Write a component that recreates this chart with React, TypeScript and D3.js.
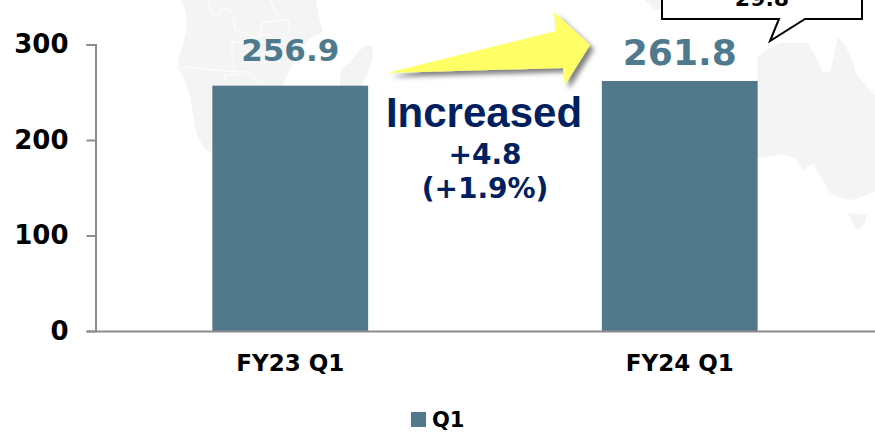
import React, { useEffect, useRef } from "react"
import * as d3 from "d3"

const categories = ["FY23 Q1", "FY24 Q1"]
const values = [256.9, 261.8]
const yTicks = [0, 100, 200, 300]
const seriesName = "Q1"
const changeLines = ["+4.8", "(+1.9%)"]

const width = 875
const height = 432
const axisLeft = 95.5
const axisBottom = 331
const axisTop = 44.5

const barColor = "#52798b"
const labelColor = "#4f7a8e"
const navy = "#002060"
const axisColor = "#8c8c8c"
const mapColor = "#f4f4f4"
const verdana = "'DejaVu Sans', sans-serif"

// faint world map behind the chart
const mapShapes = [
  "M181,0 L186,12 L187,26 L183,45 L178,60 L178,68 L184,78 L190,95 L193,115 L197,135 L205,150 L240,160 L280,90 L295,60 L310,38 L323,32 L319,18 L316,0 Z",
  "M340,86 L341,70 L350,62 L360,50 L366,45 L372,45 L373,58 L368,72 L362,86 Z",
  "M757,57 L770,48 L780,43 L807,43 L815,55 L823,73 L830,72 L833,60 L838,37 L845,45 L852,60 L857,75 L868,88 L875,95 L875,192 L853,200 L842,198 L830,193 L825,183 L818,173 L814,163 L803,170 L795,158 L783,154 L757,158 Z",
  "M848,213 L867,215 L865,223 L858,230 L853,223 Z",
  "M645,0 L690,0 L668,8 L655,10 Z",
]
const mapBorders = [
  "M178,68 L190,67 L215,70 L238,72 L245,71 L255,79 L262,85",
  "M225,80 L224,76 L238,74 L244,73",
  "M208,0 L212,13 L220,15 L221,9 L230,9 L234,20 L235,30 L243,32 L255,38 L262,35 L273,35",
  "M232,42 L232,60 L236,70",
  "M232,42 L258,42",
  "M262,22 L288,20 L290,30 L282,40",
  "M262,22 L260,36",
  "M270,0 L276,12 L288,20",
]

const App = () => {
  const chart = useRef<SVGSVGElement>(null)

  useEffect(() => {
    const svg = d3.select(chart.current)
    svg.selectAll("*").remove()

    const x = d3
      .scaleBand()
      .domain(categories)
      .range([axisLeft, width - 0.5])
      .paddingInner(0.6)
      .paddingOuter(0.3)
    const y = d3.scaleLinear().domain([0, 300]).range([axisBottom, axisTop])

    const defs = svg.append("defs")
    const shadow = defs
      .append("filter")
      .attr("id", "arrow-shadow")
      .attr("x", "-10%")
      .attr("y", "-30%")
      .attr("width", "125%")
      .attr("height", "170%")
    shadow
      .append("feDropShadow")
      .attr("dx", 4)
      .attr("dy", 4)
      .attr("stdDeviation", 2.5)
      .attr("flood-color", "#000")
      .attr("flood-opacity", 0.5)

    const map = svg.append("g")
    map
      .selectAll("path.land")
      .data(mapShapes)
      .join("path")
      .attr("class", "land")
      .attr("d", (d) => d)
      .attr("fill", mapColor)
    map
      .selectAll("path.border")
      .data(mapBorders)
      .join("path")
      .attr("class", "border")
      .attr("d", (d) => d)
      .attr("fill", "none")
      .attr("stroke", "#fff")
      .attr("stroke-width", 1)

    svg
      .selectAll("rect.bar")
      .data(values)
      .join("rect")
      .attr("class", "bar")
      .attr("x", (_, i) => x(categories[i]))
      .attr("y", (d) => y(d))
      .attr("width", x.bandwidth())
      .attr("height", (d) => axisBottom - y(d))
      .attr("fill", barColor)

    const yAxis = svg
      .append("g")
      .attr("transform", `translate(${axisLeft},0)`)
      .call(d3.axisLeft(y).tickValues(yTicks).tickSize(9).tickPadding(18))
    yAxis.select(".domain").attr("stroke", axisColor).attr("stroke-width", 2)
    yAxis.selectAll("line").attr("stroke", axisColor).attr("stroke-width", 2)
    yAxis
      .selectAll("text")
      .attr("font-family", verdana)
      .attr("font-weight", "bold")
      .attr("font-size", 26)
      .attr("fill", "#000")

    const xAxis = svg
      .append("g")
      .attr("transform", `translate(0,${axisBottom})`)
      .call(d3.axisBottom(x).tickSize(0).tickPadding(24).tickSizeOuter(0))
    xAxis.select(".domain").attr("stroke", axisColor).attr("stroke-width", 2)
    xAxis
      .selectAll("text")
      .attr("font-family", verdana)
      .attr("font-weight", "bold")
      .attr("font-size", 23)
      .attr("fill", "#000")

    // value labels
    svg
      .selectAll("text.value")
      .data(values)
      .join("text")
      .attr("class", "value")
      .attr("x", (_, i) => x(categories[i]) + x.bandwidth() / 2)
      .attr("y", (_, i) => (i === 0 ? 61 : 65))
      .attr("text-anchor", "middle")
      .attr("font-family", verdana)
      .attr("font-weight", "bold")
      .attr("font-size", (_, i) => (i === 0 ? 31 : 36))
      .attr("fill", labelColor)
      .text((d) => d.toFixed(1))

    // increase arrow
    svg
      .append("path")
      .attr("d", "M387,73 L556,31 L554,12 L590,45 L565,85 L563,68 Z")
      .attr("fill", "#ffff66")
      .attr("filter", "url(#arrow-shadow)")

    svg
      .append("text")
      .attr("x", 484)
      .attr("y", 127)
      .attr("text-anchor", "middle")
      .attr("font-family", "'Liberation Sans', sans-serif")
      .attr("font-weight", "bold")
      .attr("font-size", 42)
      .attr("fill", navy)
      .text("Increased")

    svg
      .selectAll("text.change")
      .data(changeLines)
      .join("text")
      .attr("class", "change")
      .attr("x", 485)
      .attr("y", (_, i) => 164 + i * 34)
      .attr("text-anchor", "middle")
      .attr("font-family", verdana)
      .attr("font-weight", "bold")
      .attr("font-size", 28)
      .attr("fill", navy)
      .text((d) => d)

    // callout cut off by the top of the image
    svg
      .append("path")
      .attr("d", "M662,-20 L662,19 L779,19 L770,41 L805,19 L862,19 L862,-20 Z")
      .attr("fill", "#fff")
      .attr("stroke", "#000")
      .attr("stroke-width", 2)
    svg
      .append("text")
      .attr("x", 762)
      .attr("y", 6)
      .attr("text-anchor", "middle")
      .attr("font-family", verdana)
      .attr("font-weight", "bold")
      .attr("font-size", 22)
      .attr("fill", "#000")
      .text("29.8")

    // legend
    svg
      .append("rect")
      .attr("x", 411)
      .attr("y", 412)
      .attr("width", 15)
      .attr("height", 15)
      .attr("fill", barColor)
    svg
      .append("text")
      .attr("x", 432)
      .attr("y", 427)
      .attr("font-family", verdana)
      .attr("font-weight", "bold")
      .attr("font-size", 21)
      .attr("fill", "#000")
      .text(seriesName)
  }, [])

  return (
    <svg
      ref={chart}
      width={width}
      height={height}
      style={{ position: "absolute", left: 0, top: 0, background: "#fff" }}
    />
  )
}

export default App
